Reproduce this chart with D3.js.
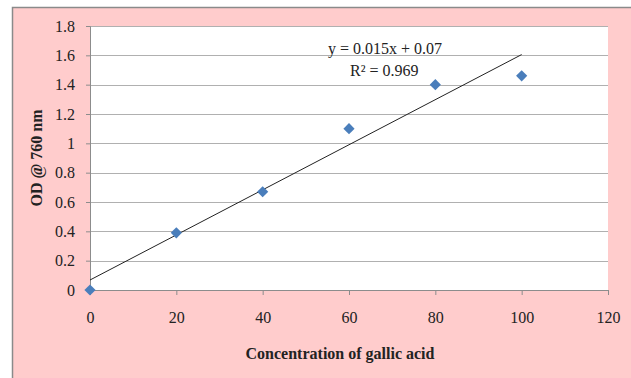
<!DOCTYPE html>
<html>
<head>
<meta charset="utf-8">
<script src="https://cdn.jsdelivr.net/npm/d3@7"></script>
<style>
  body { margin: 0; background: #fff; }
  text { font-family: "Liberation Serif", "Times New Roman", serif; fill: #222; }
</style>
</head>
<body>
<div id="chart"></div>
<script>
//data
var concentration = [0, 20, 40, 60, 80, 100];
var odValues = [0, 0.39, 0.67, 1.10, 1.40, 1.46];
var xTicks = [0, 20, 40, 60, 80, 100, 120];
var yTicks = [0, 0.2, 0.4, 0.6, 0.8, 1, 1.2, 1.4, 1.6, 1.8];
var equationLabels = ["y = 0.015x + 0.07", "R\u00b2 = 0.969"];

var svgWidth = 631;
var svgHeight = 378;
var margin = { top: 26, right: 23, bottom: 88, left: 90 };
var width = svgWidth - margin.left - margin.right;
var height = svgHeight - margin.top - margin.bottom;

var svg = d3.select("#chart").append("svg")
    .attr("width", svgWidth)
    .attr("height", svgHeight);

//pink chart area with grey border top and left
svg.append("rect")
    .attr("x", 12).attr("y", 7)
    .attr("width", svgWidth - 12).attr("height", svgHeight - 7)
    .attr("fill", "#ffcccc");
svg.append("path")
    .attr("d", `M12.5,${svgHeight} V7.5 H${svgWidth}`)
    .attr("fill", "none")
    .attr("stroke", "#8a8a8a")
    .attr("stroke-width", 1.5);

var chartGroup = svg.append("g")
    .attr("transform", `translate(${margin.left}, ${margin.top})`);

//white plot area
chartGroup.append("rect")
    .attr("width", width).attr("height", height)
    .attr("fill", "#fff");

var xScale = d3.scaleLinear().domain([0, 120]).range([0, width]);
var yScale = d3.scaleLinear().domain([0, 1.8]).range([height, 0]);

//gridlines
chartGroup.selectAll(".grid")
    .data(yTicks.filter(d => d > 0))
    .enter()
    .append("line")
    .attr("x1", 0).attr("x2", width)
    .attr("y1", d => Math.round(yScale(d)) + 0.5)
    .attr("y2", d => Math.round(yScale(d)) + 0.5)
    .attr("stroke", "#b0b0b0");

//axes
var bottomAxis = d3.axisBottom(xScale).tickValues(xTicks).tickSize(5).tickPadding(17).tickFormat(d3.format("d"));
var leftAxis = d3.axisLeft(yScale).tickValues(yTicks).tickSize(4).tickPadding(11).tickFormat(d => d3.format("")(+d.toFixed(1)));

var xAxis = chartGroup.append("g")
    .attr("transform", `translate(0, ${height})`)
    .call(bottomAxis);
var yAxis = chartGroup.append("g")
    .call(leftAxis);

[xAxis, yAxis].forEach(function(ax) {
    ax.attr("font-family", '"Liberation Serif", serif').attr("font-size", 16);
    ax.select(".domain").attr("stroke", "#8c8c8c");
    ax.selectAll(".tick line").attr("stroke", "#8c8c8c");
    ax.selectAll(".tick text").attr("fill", "#222");
});

//trend line from least squares fit
var xMean = d3.mean(concentration);
var yMean = d3.mean(odValues);
var slope = d3.sum(concentration, (x, i) => (x - xMean) * (odValues[i] - yMean)) /
    d3.sum(concentration, x => (x - xMean) * (x - xMean));
var intercept = yMean - slope * xMean;
var xExtent = d3.extent(concentration);

chartGroup.append("line")
    .attr("x1", xScale(xExtent[0]))
    .attr("y1", yScale(intercept + slope * xExtent[0]))
    .attr("x2", xScale(xExtent[1]))
    .attr("y2", yScale(intercept + slope * xExtent[1]))
    .attr("stroke", "#222")
    .attr("stroke-width", 1);

//diamond markers
chartGroup.selectAll(".point")
    .data(concentration)
    .enter()
    .append("path")
    .attr("d", d3.symbol().type(d3.symbolDiamond2).size(80))
    .attr("transform", (d, i) => `translate(${xScale(d)}, ${yScale(odValues[i])})`)
    .attr("fill", "#4a7ebb");

//equation labels
chartGroup.append("text")
    .attr("x", 238)
    .attr("y", 28)
    .attr("font-size", "16px")
    .text(equationLabels[0]);
chartGroup.append("text")
    .attr("x", 260)
    .attr("y", 50)
    .attr("font-size", "16px")
    .text(equationLabels[1]);

//axis titles
svg.append("text")
    .attr("x", margin.left + width / 2 - 9)
    .attr("y", 359)
    .attr("text-anchor", "middle")
    .attr("font-size", "16px")
    .attr("font-weight", "bold")
    .text("Concentration of gallic acid");

svg.append("text")
    .attr("transform", `translate(42, ${margin.top + height / 2}) rotate(-90)`)
    .attr("text-anchor", "middle")
    .attr("font-size", "16px")
    .attr("font-weight", "bold")
    .text("OD @ 760 nm");
</script>
</body>
</html>
